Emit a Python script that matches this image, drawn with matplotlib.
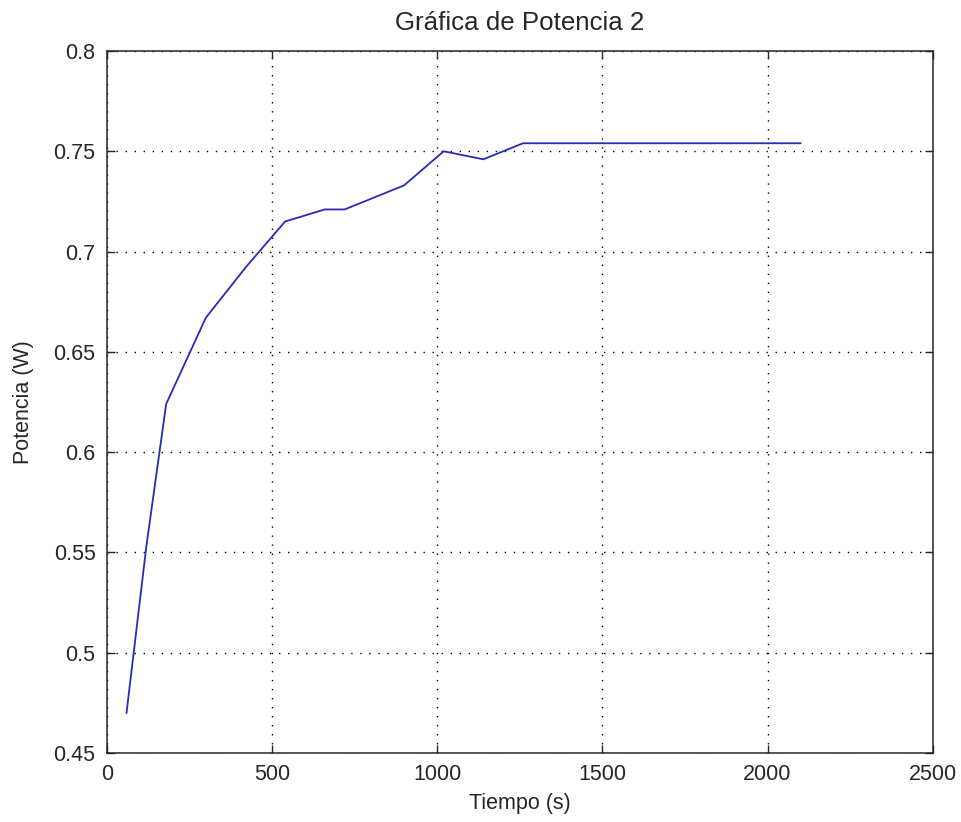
import matplotlib
matplotlib.use('Agg')
import matplotlib.pyplot as plt

# datos
tiempo = [60, 120, 180, 300, 420, 540, 660, 720, 900, 1020, 1140, 1260, 2100]
potencia = [0.470, 0.553, 0.624, 0.667, 0.692, 0.715, 0.721, 0.721, 0.733, 0.750, 0.746, 0.754, 0.754]

xticks = [0, 500, 1000, 1500, 2000, 2500]
yticks = [0.45, 0.5, 0.55, 0.6, 0.65, 0.7, 0.75, 0.8]
ytick_labels = ['0.45', '0.5', '0.55', '0.6', '0.65', '0.7', '0.75', '0.8']

plt.rcParams['font.family'] = ['Liberation Sans', 'DejaVu Sans']
plt.rcParams['font.size'] = 15.5

fig = plt.figure(figsize=(9.61, 8.22), dpi=100)
ax = fig.add_axes([106.7 / 961, 1 - 753 / 822, (932.7 - 106.7) / 961, (753 - 51) / 822])

ax.plot(tiempo, potencia, color='#2a2ab8', linewidth=1.3)

ax.set_xlim(0, 2500)
ax.set_ylim(0.45, 0.8)
ax.set_xticks(xticks)
ax.set_yticks(yticks)
ax.set_yticklabels(ytick_labels)

ax.grid(True, color='black', linestyle=(0, (1, 5.5)), linewidth=1.0)
ax.tick_params(direction='in', length=6, width=1, top=True, right=True,
               colors='#262626', labelcolor='#262626', pad=8)
for s in ax.spines.values():
    s.set_color('#262626')
    s.set_linewidth(1.1)

ax.set_title('Gráfica de Potencia 2', pad=15, color='#262626')
ax.set_xlabel('Tiempo (s)', labelpad=6, color='#262626')
ax.set_ylabel('Potencia (W)', labelpad=14, color='#262626')

fig.savefig('out.png', dpi=100, facecolor='white')
